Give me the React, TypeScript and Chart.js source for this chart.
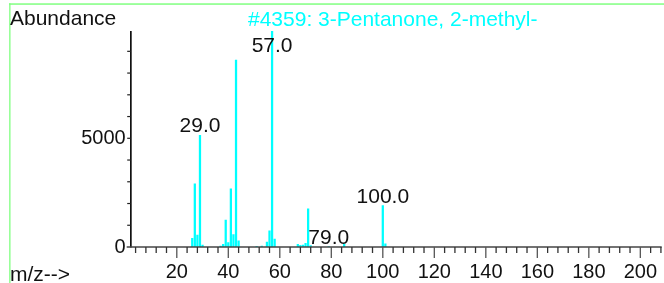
import React, { useEffect, useRef } from "react";
import { Chart, registerables } from "chart.js";

Chart.register(...registerables);

// m/z values of the peaks
const mzValues = [26, 27, 28, 29, 30, 37, 38, 39, 40, 41, 42, 43, 44, 51, 53, 55, 56, 57, 58, 67, 68, 69, 70, 71, 72, 79, 85, 100, 101];
// abundances of the peaks
const abundances = [400, 2900, 550, 5140, 90, 40, 120, 1240, 200, 2680, 570, 8600, 280, 30, 40, 230, 740, 9935, 370, 120, 80, 90, 170, 1750, 60, 20, 140, 1900, 150];
// peaks with a text label
const labeledPeaks = [29, 57, 79, 100];
// axis ticks
const xTickLabels = [20, 40, 60, 80, 100, 120, 140, 160, 180, 200];
const yTickLabels = [0, 5000];
const yAxisLabel = "Abundance";
const xAxisLabel = "m/z-->";
const titleText = "#4359: 3-Pentanone, 2-methyl-";

const FONT = "'Liberation Sans', Arial, sans-serif";

const msPlugin = {
  id: "msAxes",
  beforeDraw(chart: any) {
    const ctx = chart.ctx;
    ctx.save();
    ctx.fillStyle = "#fff";
    ctx.fillRect(0, 0, chart.width, chart.height);
    ctx.restore();
  },
  afterDraw(chart: any) {
    const ctx = chart.ctx;
    const xs = chart.scales.x;
    const ys = chart.scales.y;
    const area = chart.chartArea;
    ctx.save();

    // green frame
    ctx.fillStyle = "#80ff80";
    ctx.fillRect(9, 3.3, chart.width - 9, 1.5);
    ctx.fillRect(9.2, 3.3, 1.3, chart.height);

    // y axis line
    ctx.fillStyle = "#111";
    ctx.fillRect(area.left - 0.7, area.top, 1.7, area.bottom - area.top + 0.5);

    // y ticks every 1000
    ctx.strokeStyle = "#222";
    ctx.lineWidth = 1.2;
    for (let v = 1000; v < ys.max; v += 1000) {
      const py = ys.getPixelForValue(v);
      ctx.beginPath();
      ctx.moveTo(area.left - 3.5, py);
      ctx.lineTo(area.left, py);
      ctx.stroke();
    }

    // x baseline
    const by = ys.getPixelForValue(0);
    ctx.strokeStyle = "#444";
    ctx.lineWidth = 1.5;
    ctx.beginPath();
    ctx.moveTo(area.left - 4, by);
    ctx.lineTo(area.right, by);
    ctx.stroke();

    // x ticks every 4
    ctx.lineWidth = 1.3;
    for (let v = 4; v <= xs.max; v += 4) {
      const px = xs.getPixelForValue(v);
      const major = v % 20 === 0;
      ctx.strokeStyle = major ? "#555" : "#333";
      ctx.beginPath();
      ctx.moveTo(px, by);
      ctx.lineTo(px, by + (major ? 11 : 6));
      ctx.stroke();
    }

    // x tick labels
    ctx.fillStyle = "#111";
    ctx.font = `20px ${FONT}`;
    ctx.textAlign = "center";
    ctx.textBaseline = "alphabetic";
    for (const v of xTickLabels) {
      ctx.fillText(String(v), xs.getPixelForValue(v), 278);
    }

    // y tick labels
    ctx.textAlign = "right";
    for (const v of yTickLabels) {
      ctx.fillText(String(v), area.left - 5, ys.getPixelForValue(v) + 6);
    }

    // peak labels
    ctx.font = `21px ${FONT}`;
    ctx.textAlign = "center";
    for (const m of labeledPeaks) {
      const i = mzValues.indexOf(m);
      const top = ys.getPixelForValue(abundances[i]);
      const base = Math.max(top - 3, area.top + 21);
      ctx.fillText(m.toFixed(1), xs.getPixelForValue(m), base);
    }

    // axis titles
    ctx.textAlign = "left";
    ctx.fillText(yAxisLabel, 10, 24.5);
    ctx.fillText(xAxisLabel, 10, 281);

    // compound title
    ctx.fillStyle = "#00ffff";
    ctx.fillText(titleText, 248, 26);

    ctx.restore();
  },
};

export default function App() {
  const ref = useRef<HTMLCanvasElement | null>(null);
  useEffect(() => {
    if (!ref.current) return;
    const chart = new Chart(ref.current, {
      type: "bar",
      data: {
        datasets: [
          {
            data: mzValues.map((m, i) => ({ x: m, y: abundances[i] })),
            backgroundColor: "#00ffff",
            borderWidth: 0,
            barThickness: 1.6,
          },
        ],
      },
      options: {
        animation: false,
        responsive: false,
        devicePixelRatio: 1,
        layout: { padding: { left: 130.7, right: 2.3, top: 31, bottom: 36 } },
        plugins: { legend: { display: false }, tooltip: { enabled: false }, title: { display: false } },
        scales: {
          x: { type: "linear", min: 2.1, max: 208.3, offset: false, display: false, grid: { offset: false } },
          y: { type: "linear", min: 0, max: 9935, display: false },
        },
      },
      plugins: [msPlugin],
    });
    return () => chart.destroy();
  }, []);
  return (
    <div style={{ position: "fixed", left: 0, top: 0, width: 664, height: 283 }}>
      <canvas ref={ref} width={664} height={283} style={{ width: 664, height: 283, display: "block" }} />
    </div>
  );
}
